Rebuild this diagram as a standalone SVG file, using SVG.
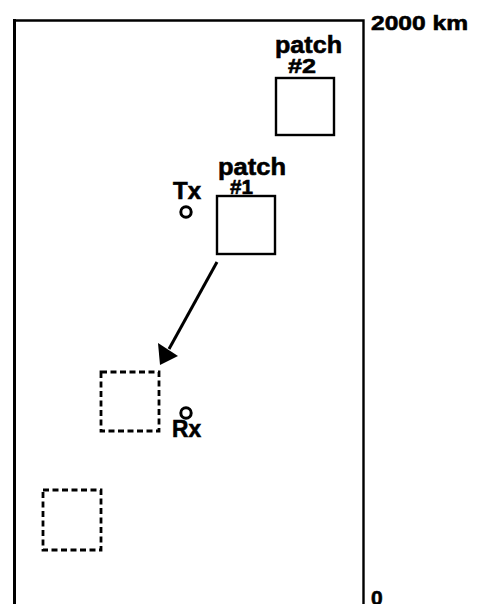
<svg xmlns="http://www.w3.org/2000/svg" width="478" height="604" viewBox="0 0 478 604">
<style>
text{font-family:"Liberation Sans",Arial,sans-serif;font-weight:bold;fill:#000;stroke:#000;stroke-width:0.6}
.patch{fill:none;stroke:#000;stroke-width:2.4}
.ghost{fill:none;stroke:#000;stroke-width:2.8;stroke-dasharray:6 3.5}
.site{fill:none;stroke:#000;stroke-width:3}
</style>
<rect width="478" height="604" fill="#fff"/>
<g id="frame">
<path d="M14.5 606 V20.5 H363.5 V606" fill="none" stroke="#000" stroke-width="2.4"/>
<line x1="14.5" y1="19" x2="14.5" y2="606" stroke="#000" stroke-width="3"/>
<text x="371" y="30" font-size="21" textLength="97" lengthAdjust="spacingAndGlyphs">2000 km</text>
<text x="371" y="605" font-size="21">0</text>
</g>
<g id="patch2">
<rect class="patch" x="276" y="78" width="58" height="57"/>
<text x="275" y="53" font-size="24" textLength="67" lengthAdjust="spacingAndGlyphs">patch</text>
<text x="288" y="73" font-size="21" textLength="28" lengthAdjust="spacingAndGlyphs">#2</text>
</g>
<g id="patch1">
<rect class="patch" x="217" y="196" width="58" height="58"/>
<text x="218" y="175" font-size="24" textLength="68" lengthAdjust="spacingAndGlyphs">patch</text>
<text x="230" y="194" font-size="21" textLength="23" lengthAdjust="spacingAndGlyphs">#1</text>
</g>
<g id="tx">
<text x="173" y="199" font-size="24" textLength="28" lengthAdjust="spacingAndGlyphs">Tx</text>
<circle class="site" cx="186" cy="212" r="5.2"/>
</g>
<g id="rx">
<circle class="site" cx="186" cy="413" r="5.2"/>
<text x="172" y="437" font-size="24" textLength="29" lengthAdjust="spacingAndGlyphs">Rx</text>
</g>
<g id="ghost1">
<rect class="ghost" x="101" y="372" width="58" height="59"/>
</g>
<g id="ghost2">
<rect class="ghost" x="43" y="490" width="58" height="60"/>
</g>
<g id="connectors">
<line x1="217" y1="262" x2="169" y2="349" stroke="#000" stroke-width="3"/>
<polygon points="160,365 158,343 178,356" fill="#000"/>
</g>
</svg>
